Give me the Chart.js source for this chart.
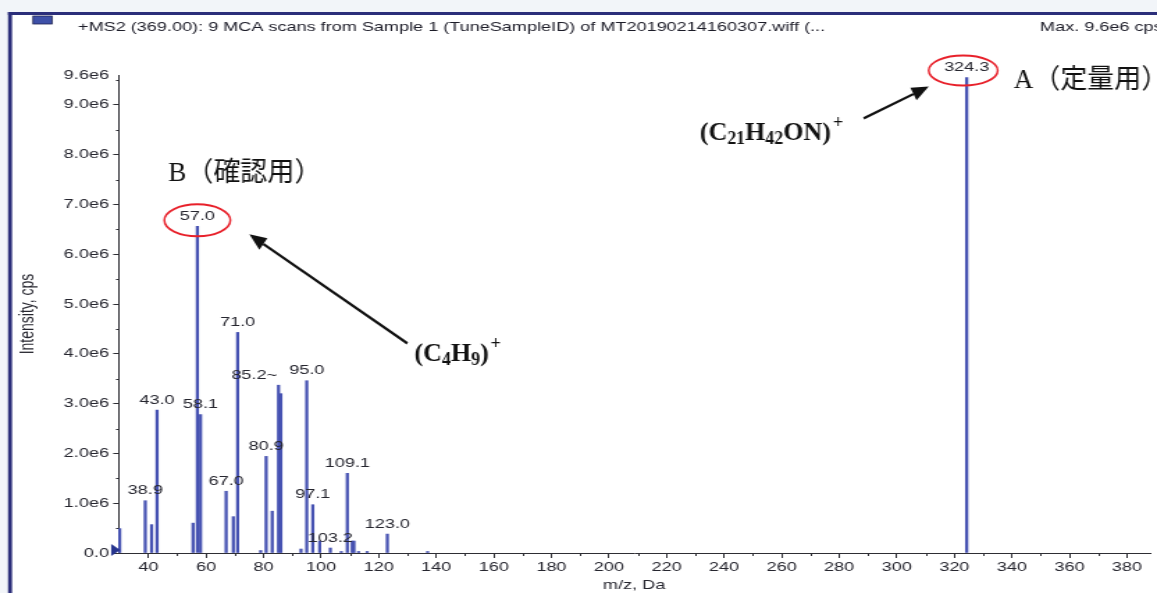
<!DOCTYPE html>
<html>
<head>
<meta charset="utf-8">
<script src="https://cdn.jsdelivr.net/npm/chart.js@4.4.1/dist/chart.umd.min.js"></script>
<style>
  html, body { margin: 0; padding: 0; background: #ffffff; overflow: hidden; }
  #wrap { width: 832px; height: 593px; transform-origin: 0 0; }
  #spectrum { display: block; }
</style>
</head>
<body>
<div id="wrap"><canvas id="spectrum" width="832" height="593"></canvas></div>
<script>
// Product-ion spectrum of precursor m/z 369.00
const mzValues = [30.0, 38.9, 41.1, 43.0, 55.5, 57.0, 58.1, 67.0, 69.5, 71.0,
                  79.0, 80.9, 83.0, 85.2, 86.0, 93.0, 95.0, 97.1, 99.5, 103.2,
                  107.0, 109.1, 110.8, 111.4, 113.0, 116.0, 123.0, 137.0, 324.3];
const intensities = [0.49e6, 1.05e6, 0.57e6, 2.87e6, 0.60e6, 6.56e6, 2.78e6, 1.24e6, 0.73e6, 4.43e6,
                     0.05e6, 1.94e6, 0.84e6, 3.37e6, 3.20e6, 0.08e6, 3.46e6, 0.97e6, 0.24e6, 0.10e6,
                     0.03e6, 1.60e6, 0.24e6, 0.24e6, 0.03e6, 0.03e6, 0.38e6, 0.03e6, 9.55e6];
const peakLabels = ['38.9', '43.0', '57.0', '58.1', '67.0', '71.0', '80.9', '85.2',
                    '95.0', '97.1', '103.2', '109.1', '123.0', '324.3'];
const xTickValues = [40, 60, 80, 100, 120, 140, 160, 180, 200, 220, 240, 260, 280,
                     300, 320, 340, 360, 380];
const yTickValues = [0, 1e6, 2e6, 3e6, 4e6, 5e6, 6e6, 7e6, 8e6, 9e6, 9.6e6];
const headerText = '+MS2 (369.00): 9 MCA scans from Sample 1 (TuneSampleID) of MT20190214160307.wiff (...';
const maxText = 'Max. 9.6e6 cps';
const quantLabel = 'A（定量用）';
const confirmLabel = 'B（確認用）';
// ion formulas as runs of normal / subscript / superscript text
const quantIon = [['(C', 'n'], ['21', 'sub'], ['H', 'n'], ['42', 'sub'], ['ON)', 'n'], ['+', 'sup']];
const confirmIon = [['(C', 'n'], ['4', 'sub'], ['H', 'n'], ['9', 'sub'], [')', 'n'], ['+', 'sup']];

// the instrument window is shown horizontally stretched
const canvas = document.getElementById('spectrum');
const S = 1157 / canvas.width;
document.getElementById('wrap').style.transform = 'scaleX(' + S + ')';

const BAR = '#4652b2';
const AXIS = '#2e2e34';
const TXT = '#26262f';
const NAVY = '#2b2e7a';
const SANS = '"Liberation Sans", Arial, sans-serif';
const SERIF = '"Liberation Serif", "Noto Sans CJK JP", serif';

Chart.defaults.font.family = SANS;
Chart.defaults.font.size = 13;
Chart.defaults.color = TXT;

function arrow(ctx, x1, y1, x2, y2) {
  const a = Math.atan2(y2 - y1, x2 - x1), L = 17, W = 7;
  const bx = x2 - L * Math.cos(a), by = y2 - L * Math.sin(a);
  ctx.beginPath(); ctx.moveTo(x1, y1); ctx.lineTo(bx, by); ctx.stroke();
  ctx.beginPath();
  ctx.moveTo(x2, y2);
  ctx.lineTo(bx + W * Math.sin(a), by - W * Math.cos(a));
  ctx.lineTo(bx - W * Math.sin(a), by + W * Math.cos(a));
  ctx.closePath(); ctx.fill();
}

function drawRuns(ctx, runs, x, y) {
  ctx.textAlign = 'left';
  ctx.textBaseline = 'alphabetic';
  for (const [t, k] of runs) {
    ctx.font = k === 'n' ? 'bold 26px ' + SERIF : 'bold 18px ' + SERIF;
    const dy = k === 'sub' ? 4 : (k === 'sup' ? -12 : 0);
    ctx.fillText(t, x, y + dy);
    x += ctx.measureText(t).width + (k === 'n' && t.endsWith(')') ? 2 : 0);
  }
}

const spectrumDecor = {
  id: 'spectrumDecor',
  beforeDraw(chart) {
    const ctx = chart.ctx;
    ctx.save();
    // window frame
    ctx.fillStyle = '#f2f5f9';
    ctx.fillRect(0, 0, chart.width, chart.height);
    ctx.fillStyle = '#ffffff';
    ctx.fillRect(8 / S, 12, chart.width, chart.height);
    ctx.fillStyle = NAVY;
    ctx.fillRect(8 / S, 12, chart.width, 3);
    ctx.fillRect(8 / S, 12, 4 / S, chart.height);
    // legend swatch
    ctx.fillStyle = '#3e50a8';
    ctx.fillRect(33 / S, 16, 19 / S, 8);
    ctx.strokeStyle = '#1e2250';
    ctx.lineWidth = 0.8;
    ctx.strokeRect(33 / S, 16, 19 / S, 8);
    // header line
    ctx.fillStyle = '#1c1c28';
    ctx.font = '13px ' + SANS;
    ctx.textBaseline = 'middle';
    ctx.textAlign = 'left';
    ctx.fillText(headerText, 78 / S, 27);
    ctx.fillText(maxText, 1040 / S, 27);
    ctx.restore();
  },
  afterDatasetsDraw(chart) {
    const ctx = chart.ctx;
    const xs = chart.scales.x, ys = chart.scales.y;
    const left = chart.chartArea.left, bottom = chart.chartArea.bottom;
    ctx.save();
    // minor ticks between labelled ticks
    ctx.strokeStyle = AXIS;
    ctx.lineWidth = 1;
    ctx.beginPath();
    for (let i = 0; i < xTickValues.length - 1; i++) {
      const px = Math.round(xs.getPixelForValue((xTickValues[i] + xTickValues[i + 1]) / 2)) + 0.5;
      ctx.moveTo(px, bottom); ctx.lineTo(px, bottom + 3);
    }
    for (let i = 0; i < 10; i++) {
      const py = Math.round(ys.getPixelForValue((i + 0.5) * 1e6)) + 0.5;
      ctx.moveTo(left, py); ctx.lineTo(left - 2.2 / S, py);
    }
    ctx.stroke();
    // baseline marker
    const y0 = ys.getPixelForValue(0);
    ctx.fillStyle = '#27358f';
    ctx.beginPath();
    ctx.moveTo(left - 7 / S, y0 - 9);
    ctx.lineTo(left + 2 / S, y0 - 3);
    ctx.lineTo(left - 7 / S, y0 + 3);
    ctx.closePath();
    ctx.fill();
    // peak labels
    const meta = chart.getDatasetMeta(0);
    ctx.fillStyle = TXT;
    ctx.font = '13px ' + SANS;
    ctx.textBaseline = 'middle';
    for (const lab of peakLabels) {
      const i = mzValues.indexOf(Number(lab));
      if (i < 0) continue;
      const el = meta.data[i];
      if (lab === '85.2') {
        ctx.textAlign = 'right';
        ctx.fillText(lab + '~', el.x - 1, el.y - 10);
      } else {
        ctx.textAlign = 'center';
        ctx.fillText(lab, el.x, el.y - 10);
      }
    }
    ctx.restore();
  },
  afterDraw(chart) {
    const ctx = chart.ctx;
    const meta = chart.getDatasetMeta(0);
    const anchor = (mz) => {
      const el = meta.data[mzValues.indexOf(mz)];
      return { x: el.x * S, y: el.y - 10 };
    };
    ctx.save();
    ctx.scale(1 / S, 1); // callouts are drawn unstretched
    const b = anchor(57.0), a = anchor(324.3);
    // red circles round the two selected ions
    ctx.strokeStyle = '#e8202a';
    ctx.lineWidth = 2;
    ctx.beginPath(); ctx.ellipse(b.x, b.y + 4, 33, 16, 0, 0, Math.PI * 2); ctx.stroke();
    ctx.beginPath(); ctx.ellipse(a.x - 3.5, a.y + 3, 34.5, 15, 0, 0, Math.PI * 2); ctx.stroke();
    // arrows
    ctx.strokeStyle = '#111111';
    ctx.fillStyle = '#111111';
    ctx.lineWidth = 2.5;
    arrow(ctx, b.x + 210, b.y + 127, b.x + 52, b.y + 18);
    arrow(ctx, a.x - 103, a.y + 51, a.x - 38, a.y + 19);
    // captions
    ctx.textAlign = 'left';
    ctx.textBaseline = 'alphabetic';
    ctx.font = '27px ' + SERIF;
    ctx.fillText(confirmLabel, b.x - 29, b.y - 35);
    ctx.fillText(quantLabel, a.x + 47, a.y + 21);
    drawRuns(ctx, confirmIon, b.x + 217, b.y + 145);
    drawRuns(ctx, quantIon, a.x - 267, a.y + 73);
    ctx.restore();
  }
};

new Chart(canvas, {
  type: 'bar',
  data: {
    datasets: [{
      data: mzValues.map((m, i) => ({ x: m, y: intensities[i] })),
      backgroundColor: BAR,
      borderWidth: 0,
      barThickness: 1.6
    }]
  },
  options: {
    responsive: false,
    animation: false,
    devicePixelRatio: 1,
    layout: { padding: { top: 75, right: 5, left: 0, bottom: 0 } },
    plugins: { legend: { display: false }, tooltip: { enabled: false } },
    scales: {
      x: {
        type: 'linear',
        min: 29.5,
        max: 388,
        offset: false,
        grid: { drawOnChartArea: false, drawTicks: true, tickLength: 5, color: AXIS, offset: false },
        border: { display: true, color: AXIS, width: 1 },
        afterBuildTicks: (s) => { s.ticks = xTickValues.map((v) => ({ value: v })); },
        afterFit: (s) => { s.height = 40; },
        ticks: { autoSkip: false, maxRotation: 0, padding: 2, color: TXT, font: { size: 13 },
                 callback: (v) => String(v) },
        title: { display: true, text: 'm/z, Da', color: TXT, font: { size: 13 },
                 padding: { top: 0, bottom: 0 } }
      },
      y: {
        min: 0,
        max: 9.6e6,
        grid: { drawOnChartArea: false, drawTicks: true, tickLength: 3.6, color: AXIS,
                tickColor: (c) => (c.tick && c.tick.value === 9.6e6 ? 'rgba(0,0,0,0)' : AXIS) },
        border: { display: true, color: AXIS, width: 1 },
        afterBuildTicks: (s) => { s.ticks = yTickValues.map((v) => ({ value: v })); },
        afterFit: (s) => { s.width = 85; },
        ticks: { autoSkip: false, padding: 3, color: TXT, font: { size: 13 },
                 callback: (v) => (v === 0 ? '0.0' : (v / 1e6).toFixed(1) + 'e6') },
        title: { display: true, text: 'Intensity, cps', color: TXT, font: { size: 14 },
                 padding: { top: 12, bottom: 0 } }
      }
    }
  },
  plugins: [spectrumDecor]
});
</script>
</body>
</html>
